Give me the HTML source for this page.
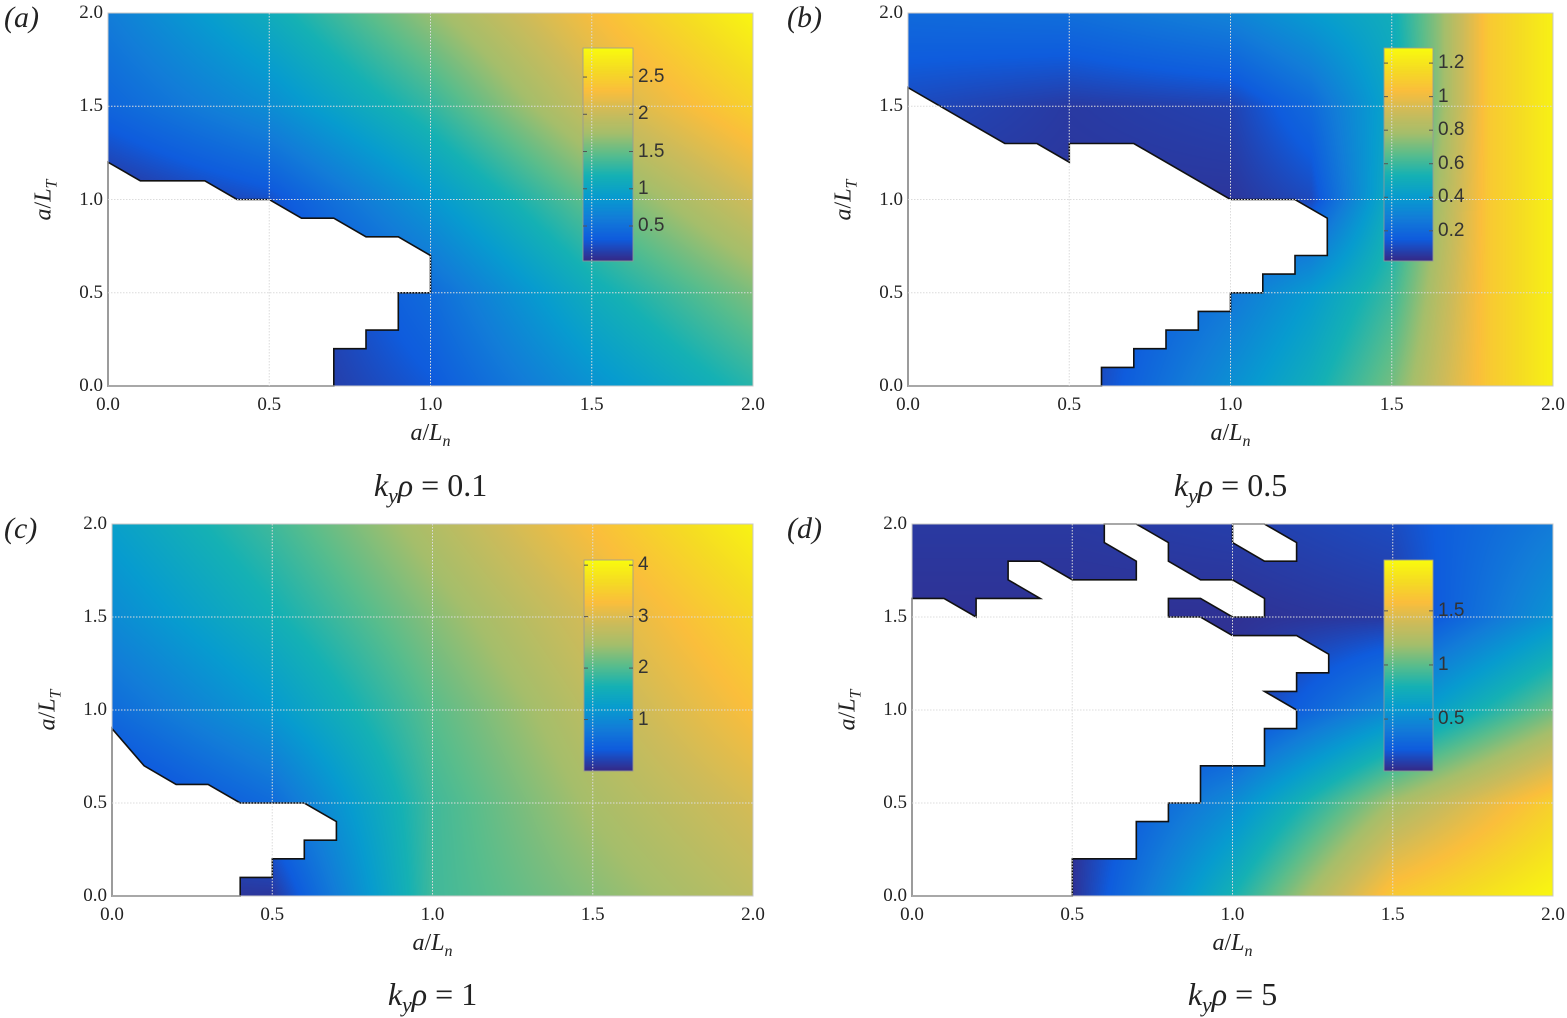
<!DOCTYPE html>
<html><head><meta charset="utf-8">
<style>
body{margin:0;background:#fff;width:1567px;height:1016px;position:relative;overflow:hidden;font-family:"Liberation Serif",serif;}
.t{position:absolute;white-space:nowrap;color:#222;}
canvas,svg{position:absolute;left:0;top:0;}
.tick{font-size:19px;}
.cbl{font-family:"Liberation Sans",sans-serif;font-size:19px;color:#333;}
.pl{font-size:30px;font-style:italic;}
.ttl{font-size:32px;}
.axl{font-size:24px;}
</style></head><body>
<canvas id="cv" width="1567" height="1016"></canvas>
<svg id="sv" width="1567" height="1016"></svg>
<div id="txt"></div>
<script>
// ---- data ----
const xsStd = [0, 0.5, 1, 1.5, 2];
const ysStd = [0, 0.5, 1, 1.5, 2];
const xsB = [0, 0.5, 1, 1.25, 1.5, 1.65, 1.8, 2];
const gridA = [
 [0.05,0.05,0.3,0.8,1.25],
 [0.05,0.05,0.45,1.1,1.6],
 [0.05,0.25,0.85,1.5,2.05],
 [0.4,0.75,1.3,2.0,2.5],
 [0.6,1.1,1.7,2.3,2.85]];
const gridB = [
 [0.05,0.05,0.35,0.5,0.7,0.9,1.08,1.25],
 [0.05,0.05,0.25,0.4,0.6,0.85,1.08,1.25],
 [0.05,0.05,0.05,0.1,0.5,0.8,1.08,1.25],
 [0.1,0.06,0.08,0.2,0.45,0.75,1.08,1.25],
 [0.2,0.22,0.3,0.4,0.5,0.75,1.08,1.25]];
const gridC = [
 [0.1,0.1,1.9,2.3,2.7],
 [0.1,0.6,1.9,2.5,2.95],
 [0.6,1.2,2.05,2.7,3.3],
 [1.0,1.6,2.3,2.95,3.6],
 [1.3,1.9,2.6,3.3,4.0]];
const gridD = [
 [0.05,0.05,0.8,1.65,1.95],
 [0.05,0.05,0.5,1.2,1.7],
 [0.05,0.05,0.05,0.5,1.05],
 [0.05,0.05,0.05,0.08,0.55],
 [0.08,0.08,0.1,0.15,0.4]];
const maskA = [[[0,0],[0,1.2],[0.1,1.1],[0.3,1.1],[0.4,1.0],[0.5,1.0],[0.6,0.9],[0.7,0.9],[0.8,0.8],[0.9,0.8],[1.0,0.7],[1.0,0.5],[0.9,0.5],[0.9,0.3],[0.8,0.3],[0.8,0.2],[0.7,0.2],[0.7,0]]];
const maskB = [[[0,0],[0,1.6],[0.3,1.3],[0.4,1.3],[0.5,1.2],[0.5,1.3],[0.7,1.3],[1.0,1.0],[1.2,1.0],[1.3,0.9],[1.3,0.7],[1.2,0.7],[1.2,0.6],[1.1,0.6],[1.1,0.5],[1.0,0.5],[1.0,0.4],[0.9,0.4],[0.9,0.3],[0.8,0.3],[0.8,0.2],[0.7,0.2],[0.7,0.1],[0.6,0.1],[0.6,0]]];
const maskC = [[[0,0],[0,0.9],[0.1,0.7],[0.2,0.6],[0.3,0.6],[0.4,0.5],[0.6,0.5],[0.7,0.4],[0.7,0.3],[0.6,0.3],[0.6,0.2],[0.5,0.2],[0.5,0.1],[0.4,0.1],[0.4,0]]];
const maskD = [
 [[0,0],[0,1.6],[0.1,1.6],[0.2,1.5],[0.2,1.6],[0.4,1.6],[0.3,1.7],[0.3,1.8],[0.4,1.8],[0.5,1.7],[0.7,1.7],[0.7,1.8],[0.6,1.9],[0.6,2.0],[0.7,2.0],[0.8,1.9],[0.8,1.8],[0.9,1.7],[1.0,1.7],[1.1,1.6],[1.1,1.5],[1.0,1.5],[0.9,1.6],[0.8,1.6],[0.8,1.5],[0.9,1.5],[1.0,1.4],[1.2,1.4],[1.3,1.3],[1.3,1.2],[1.2,1.2],[1.2,1.1],[1.1,1.1],[1.2,1.0],[1.2,0.9],[1.1,0.9],[1.1,0.7],[0.9,0.7],[0.9,0.5],[0.8,0.5],[0.8,0.4],[0.7,0.4],[0.7,0.2],[0.5,0.2],[0.5,0]],
 [[1.0,2.0],[1.1,2.0],[1.2,1.9],[1.2,1.8],[1.1,1.8],[1.0,1.9]]];
const axisTicks = [0, 0.5, 1, 1.5, 2];
const axisTickLabels = ["0.0","0.5","1.0","1.5","2.0"];
const cbTicksA = [0.5,1,1.5,2,2.5];
const cbTicksB = [0.2,0.4,0.6,0.8,1,1.2];
const cbTicksC = [1,2,3,4];
const cbTicksD = [0.5,1,1.5];
const titles = ["0.1","0.5","1","5"];

const panels = [
 {id:'a',x0:108,x1:753,y0:13,y1:386,xs:xsStd,ys:ysStd,g:gridA,m:maskA,min:0.03,max:2.89,cb:{x:583,y:48,w:50,h:213},cbt:cbTicksA,title:titles[0],ty:488},
 {id:'b',x0:908,x1:1553,y0:13,y1:386,xs:xsB,ys:ysStd,g:gridB,m:maskB,min:0.02,max:1.29,cb:{x:1384,y:48,w:49,h:213},cbt:cbTicksB,title:titles[1],ty:488},
 {id:'c',x0:112,x1:753,y0:524,y1:896,xs:xsStd,ys:ysStd,g:gridC,m:maskC,min:0,max:4.1,cb:{x:584,y:560,w:49,h:211},cbt:cbTicksC,title:titles[2],ty:997},
 {id:'d',x0:912,x1:1553,y0:524,y1:896,xs:xsStd,ys:ysStd,g:gridD,m:maskD,min:0.02,max:1.97,cb:{x:1384,y:560,w:49,h:211},cbt:cbTicksD,title:titles[3],ty:997}
];
const parula=[[53,42,135],[15,92,221],[18,125,216],[7,156,207],[21,177,180],[89,189,140],[165,190,107],[205,187,90],[250,190,60],[245,220,35],[249,251,14]];
function cmap(t){t=Math.max(0,Math.min(1,t))*10;const i=Math.min(9,Math.floor(t)),f=t-i;const a=parula[i],b=parula[i+1];return [a[0]+(b[0]-a[0])*f,a[1]+(b[1]-a[1])*f,a[2]+(b[2]-a[2])*f];}
function seg(arr,v){let i=0;while(i<arr.length-2&&v>arr[i+1])i++;return [i,(v-arr[i])/(arr[i+1]-arr[i])];}
function sample(p,x,y){const [i,fx]=seg(p.xs,x),[j,fy]=seg(p.ys,y);const g=p.g;
 return g[j][i]*(1-fx)*(1-fy)+g[j][i+1]*fx*(1-fy)+g[j+1][i]*(1-fx)*fy+g[j+1][i+1]*fx*fy;}
const ctx=document.getElementById('cv').getContext('2d');
const sv=document.getElementById('sv');
const txt=document.getElementById('txt');
const NS='http://www.w3.org/2000/svg';
function addText(html,cls,x,y,anchor,name){const d=document.createElement('div');d.className='t '+cls;d.innerHTML=html;d.style.left=x+'px';d.style.top=y+'px';
 d.style.transform=anchor;
 
 
 txt.appendChild(d);return d;}
panels.forEach(p=>{
 const W=p.x1-p.x0,H=p.y1-p.y0;
 const sx=v=>p.x0+v/2*W, sy=v=>p.y1-v/2*H;
 const img=ctx.createImageData(W,H);
 for(let py=0;py<H;py++)for(let px=0;px<W;px++){
  const c=cmap((sample(p,(px+0.5)/W*2,2-(py+0.5)/H*2)-p.min)/(p.max-p.min));
  const k=(py*W+px)*4;img.data[k]=c[0];img.data[k+1]=c[1];img.data[k+2]=c[2];img.data[k+3]=255;}
 ctx.putImageData(img,p.x0,p.y0);
 const cb=p.cb;const gimg=ctx.createImageData(cb.w,cb.h);
 for(let py=0;py<cb.h;py++){const c=cmap(1-py/(cb.h-1));for(let px=0;px<cb.w;px++){const k=(py*cb.w+px)*4;gimg.data[k]=c[0];gimg.data[k+1]=c[1];gimg.data[k+2]=c[2];gimg.data[k+3]=255;}}
 ctx.putImageData(gimg,cb.x,cb.y);
 p.m.forEach((poly,pi)=>{const e=document.createElementNS(NS,'polygon');
  e.setAttribute('points',poly.map(q=>sx(q[0]).toFixed(1)+','+sy(q[1]).toFixed(1)).join(' '));
  e.setAttribute('fill','#fff');e.setAttribute('stroke','#111');e.setAttribute('stroke-width','1.6');e.setAttribute('stroke-linejoin','miter');
  
  
  sv.appendChild(e);});
 axisTicks.forEach((v,i)=>{
  if(v>0&&v<2){[[sx(v),p.y0,sx(v),p.y1],[p.x0,sy(v),p.x1,sy(v)]].forEach(L=>{const l=document.createElementNS(NS,'line');
   l.setAttribute('x1',L[0]);l.setAttribute('y1',L[1]);l.setAttribute('x2',L[2]);l.setAttribute('y2',L[3]);
   l.setAttribute('stroke','#dcdcdc');l.setAttribute('stroke-width','1');l.setAttribute('stroke-dasharray','1.5,1.5');
   
   
   sv.appendChild(l);});}
  addText(axisTickLabels[i],'tick',p.x0-5,sy(v),'translate(-100%,-50%)','y-tick-label');
  addText(axisTickLabels[i],'tick',sx(v),p.y1+8,'translateX(-50%)','x-tick-label');
 });
 const box=document.createElementNS(NS,'rect');
 box.setAttribute('x',p.x0);box.setAttribute('y',p.y0);box.setAttribute('width',W);box.setAttribute('height',H);
 box.setAttribute('fill','none');box.setAttribute('stroke','#c8c8c8');box.setAttribute('stroke-width','1');
 
 
 sv.appendChild(box);
 const cbr=document.createElementNS(NS,'rect');
 cbr.setAttribute('x',cb.x);cbr.setAttribute('y',cb.y);cbr.setAttribute('width',cb.w);cbr.setAttribute('height',cb.h);
 cbr.setAttribute('fill','none');cbr.setAttribute('stroke','#999');cbr.setAttribute('stroke-width','0.8');
 
 
 sv.appendChild(cbr);
 p.cbt.forEach(v=>{const yy=cb.y+cb.h-(v-p.min)/(p.max-p.min)*cb.h;
  [[cb.x,cb.x+4],[cb.x+cb.w-4,cb.x+cb.w]].forEach(X=>{const l=document.createElementNS(NS,'line');
   l.setAttribute('x1',X[0]);l.setAttribute('x2',X[1]);l.setAttribute('y1',yy);l.setAttribute('y2',yy);l.setAttribute('stroke','#555');
   
   
   sv.appendChild(l);});
  addText(String(v),'cbl',cb.x+cb.w+5,yy,'translateY(-50%)','colorbar-tick-label');});
 const cx=(p.x0+p.x1)/2, cy=(p.y0+p.y1)/2;
 addText('<i>a</i>/<i>L<sub style="font-size:16px">T</sub></i>','axl',p.x0-62,cy,'translate(-50%,-50%) rotate(-90deg)','y-axis-title');
 addText('<i>a</i>/<i>L<sub style="font-size:16px">n</sub></i>','axl',cx,p.y1+34,'translateX(-50%)','x-axis-title');
 addText('<i>k<sub style="font-size:22px">y</sub>ρ</i> = '+p.title,'ttl',cx,p.ty,'translate(-50%,-50%)','panel-title-'+p.id);
 addText('('+p.id+')','pl',p.id==='a'||p.id==='c'?4:787,p.y0-12,'none','panel-label-'+p.id);
});
</script>
</body></html>
